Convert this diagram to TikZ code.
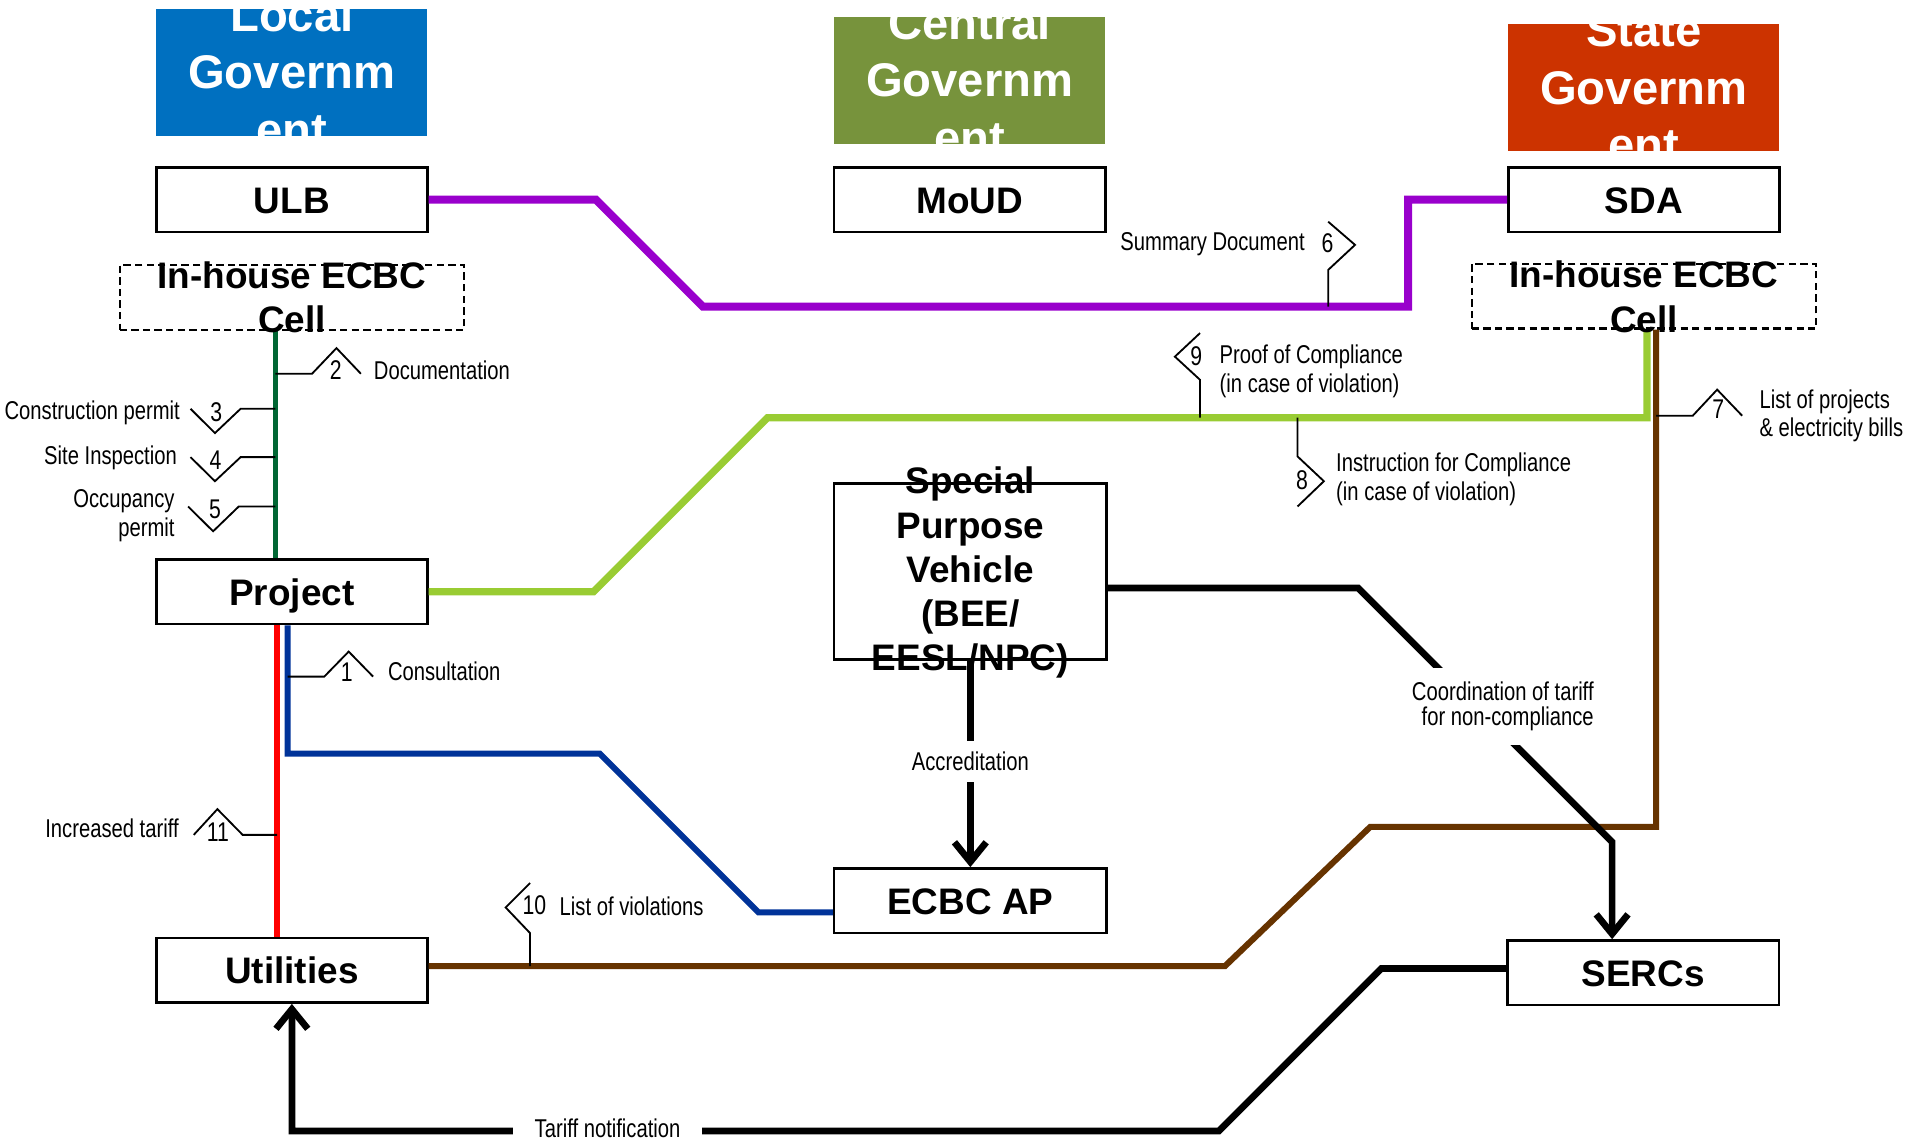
\documentclass[tikz,border=0pt]{standalone}
\usepackage{fontspec}
\setmainfont{Liberation Sans}
\newfontfamily\narrowfont[FakeStretch=0.785]{Liberation Sans}
\usetikzlibrary{arrows.meta}

\definecolor{localblue}{RGB}{0,112,192}
\definecolor{centralgreen}{RGB}{119,147,60}
\definecolor{statered}{RGB}{204,51,0}
\definecolor{ulbpurple}{RGB}{153,0,204}
\definecolor{celldkgreen}{RGB}{0,102,51}
\definecolor{projgreen}{RGB}{153,204,51}
\definecolor{consblue}{RGB}{0,51,153}
\definecolor{utilbrown}{RGB}{102,51,0}

\tikzset{
  orgbox/.style={draw, line width=0.2mm, minimum width=22.2mm, minimum height=5.3mm, inner sep=0pt,
    text height=6.2pt, text depth=0pt, font=\fontsize{8.6}{10.3}\selectfont\bfseries},
  cellframe/.style={draw, line width=0.18mm, dash pattern=on 0.6mm off 0.35mm,
    minimum width=28.2mm, minimum height=5.3mm, inner sep=0pt},
  boxtext/.style={align=center, inner sep=0pt, font=\fontsize{8.6}{10.3}\selectfont\bfseries},
  govbox/.style={minimum width=22.2mm, minimum height=10.4mm, inner sep=0pt},
  govtext/.style={align=center, inner sep=0pt, text=white, font=\fontsize{11}{13.4}\selectfont\bfseries},
  note/.style={inner sep=0pt, font=\narrowfont\fontsize{6}{6.7}\selectfont},
  num/.style={inner sep=0pt, font=\narrowfont\fontsize{6.3}{6.7}\selectfont},
  flagline/.style={line width=0.15mm},
  flow/.style={line width=0.55mm},
  arrowed/.style={-{Straight Barb[length=1.6mm, width=2.6mm]}},
}

\begin{document}
\begin{tikzpicture}[x=0.1mm, y=-0.1mm]
\useasboundingbox (0,0) rectangle (1568,933);

% government heads
\node[govbox, fill=localblue] (localgov) at (239,59) {};
\node[govbox, fill=centralgreen] (centralgov) at (794,65.5) {};
\node[govbox, fill=statered] (stategov) at (1346,72) {};
\begin{scope}
  \clip (localgov.south west) rectangle (localgov.north east);
  \node[govtext] (localtxt) at (localgov) {Local\\Governm\\ent};
\end{scope}
\begin{scope}
  \clip (centralgov.south west) rectangle (centralgov.north east);
  \node[govtext] (centraltxt) at (centralgov) {Central\\Governm\\ent};
\end{scope}
\begin{scope}
  \clip (stategov.south west) rectangle (stategov.north east);
  \node[govtext] (statetxt) at (stategov) {State\\Governm\\ent};
\end{scope}

% bodies
\node[orgbox] (ulb) at (239,163.5) {ULB};
\node[orgbox] (moud) at (794,163.5) {MoUD};
\node[orgbox] (sda) at (1346,163.5) {SDA};
\node[cellframe] (celll) at (239,243.5) {};
\node[cellframe] (cellr) at (1346,242.5) {};
\node[orgbox] (project) at (239,484.5) {Project};
\node[orgbox, minimum width=22.3mm, minimum height=14.4mm] (spv) at (794.5,468) {};
\node[orgbox, minimum width=22.3mm] (ecbcap) at (794.5,737.5) {ECBC AP};
\node[orgbox] (utilities) at (239,794.5) {Utilities};
\node[orgbox] (sercs) at (1345.5,796.5) {SERCs};

% coloured flows
\draw[flow, ulbpurple, line width=0.65mm] (ulb.east) -- (488,163.5) -- (575.5,251) -- (1153,251) |- (sda.west);
\draw[flow, celldkgreen, line width=0.45mm] (225.5,0 |- celll.south) -- (225.5,0 |- project.north);
\draw[flow, projgreen, line width=0.6mm] (project.east) -- (486,484.5) -- (628.5,342) -- (1348.5,342) -- (1348.5,0 |- cellr.south);
\draw[flow, red, line width=0.45mm] (227,0 |- project.south) -- (227,0 |- utilities.north);
\draw[flow, consblue, line width=0.5mm] (235.5,0 |- project.south) -- (235.5,617) -- (491,617) -- (621,747) -- (ecbcap.west |- 0,747);
\draw[flow, utilbrown, line width=0.5mm] (utilities.east |- 0,791) -- (1003,791) -- (1122,677) -- (1356,677) -- (1356,0 |- cellr.south);

% black flows
\draw[flow, arrowed] (spv.south) -- (ecbcap.north);
\draw[flow, arrowed] (spv.east |- 0,481.5) -- (1112,481.5) -- (1320,689.5) -- (1320,0 |- sercs.north);
\draw[flow, arrowed] (sercs.west |- 0,793) -- (1131,793) -- (998,926) -- (239,926) -- (239,0 |- utilities.south);
\node[note, fill=white, inner ysep=0.9mm, inner xsep=0.3mm] (accr) at (794.5,623.5) {Accreditation};
\node[note, fill=white, align=right, inner sep=1.1mm, font=\narrowfont\fontsize{6}{5.9}\selectfont] (coord) at (1230.5,578.5) {Coordination of tariff\\for non-compliance};
\node[note, fill=white, inner xsep=1.8mm, inner ysep=0.8mm] (tariff) at (497.5,924) {Tariff notification};

% box texts
\node[boxtext] (cellltxt) at (239,243.5) {In-house ECBC\\Cell};
\node[boxtext] (cellrtxt) at (1346,243) {In-house ECBC\\Cell};
\node[boxtext] (spvtxt) at (794.5,469) {Special\\Purpose\\Vehicle\\(BEE/\\EESL/NPC)};

% numbered flags
\draw[flagline] (235.5,554) -- (265.5,554) -- (285.5,533.5) -- (305.5,554);
\node[num] (n1) at (284,550) {1};
\node[note, anchor=west] (consult) at (317,550) {Consultation};

\draw[flagline] (225.5,306) -- (255.5,306) -- (275.5,285) -- (295.5,306);
\node[num] (n2) at (275,303) {2};
\node[note, anchor=west] (docu) at (305.5,303) {Documentation};

\draw[flagline] (225.5,334.7) -- (197,334.7) -- (176,354.6) -- (156,334.7);
\node[num] (n3) at (177,337.5) {3};
\node[note, anchor=east] (conperm) at (148,338) {Construction permit};

\draw[flagline] (225.5,374.3) -- (197,374.3) -- (176,394) -- (156,374.3);
\node[num] (n4) at (176.5,377) {4};
\node[note, anchor=east] (siteinsp) at (145.5,375) {Site Inspection};

\draw[flagline] (225.5,414.7) -- (195.5,414.7) -- (174.5,435) -- (154,414.7);
\node[num] (n5) at (176,417) {5};
\node[note, anchor=east, align=right] (occperm) at (143.6,422.3) {Occupancy\\permit};

\draw[flagline] (1087.5,251) -- (1087.5,221) -- (1109.5,200.5) -- (1087.5,181.5);
\node[num] (n6) at (1087,199.5) {6};
\node[note, anchor=east] (summary) at (1069,200) {Summary Document};

\draw[flagline] (1356,340.4) -- (1386,340.4) -- (1406,319) -- (1426.5,340.4);
\node[num] (n7) at (1407,335) {7};
\node[note, anchor=west, align=left] (listproj) at (1440,340.4) {List of projects\\\& electricity bills};

\draw[flagline] (1062.4,342) -- (1062.4,373.7) -- (1084,394) -- (1062.4,414.7);
\node[num] (n8) at (1066,393) {8};
\node[note, anchor=west, align=left] (instr) at (1093.4,392.3) {Instruction for Compliance\\(in case of violation)};

\draw[flagline] (982.6,342) -- (982.6,311) -- (962,292) -- (982.6,272.7);
\node[num] (n9) at (979.5,292) {9};
\node[note, anchor=west, align=left] (proof) at (998,304) {Proof of Compliance\\(in case of violation)};

\draw[flagline] (434,791) -- (434,764) -- (414,743) -- (434,723);
\node[num] (n10) at (437.5,741.5) {10};
\node[note, anchor=west] (listviol) at (457.6,742) {List of violations};

\draw[flagline] (227,683.6) -- (198.7,683.6) -- (178,662.5) -- (158.6,683.6);
\node[num] (n11) at (178.5,681) {11};
\node[note, anchor=east] (inctariff) at (147,678) {Increased tariff};
\end{tikzpicture}
\end{document}
